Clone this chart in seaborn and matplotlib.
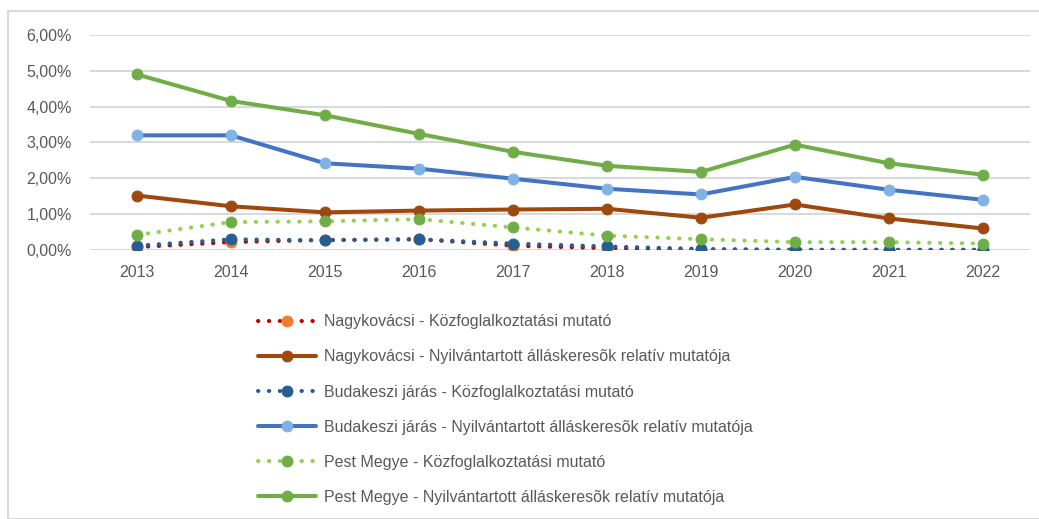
import numpy as np
import pandas as pd
import matplotlib
matplotlib.use("Agg")
from matplotlib import pyplot as plt
from matplotlib.ticker import FuncFormatter
from matplotlib.patches import Rectangle
import seaborn as sns

years = [2013, 2014, 2015, 2016, 2017, 2018, 2019, 2020, 2021, 2022]

# values in percent
nagy_kozfog = [0.08, 0.22, 0.28, 0.30, 0.12, 0.05, 0.00, 0.00, 0.00, 0.00]
nagy_rel = [1.52, 1.22, 1.05, 1.10, 1.13, 1.15, 0.90, 1.27, 0.88, 0.60]
buda_kozfog = [0.12, 0.30, 0.27, 0.30, 0.18, 0.10, 0.03, 0.01, 0.01, 0.01]
buda_rel = [3.20, 3.20, 2.42, 2.27, 1.99, 1.71, 1.55, 2.04, 1.68, 1.40]
pest_kozfog = [0.42, 0.78, 0.80, 0.86, 0.63, 0.40, 0.30, 0.22, 0.22, 0.18]
pest_rel = [4.90, 4.16, 3.76, 3.24, 2.74, 2.35, 2.18, 2.94, 2.42, 2.10]

labels = [
    "Nagykovácsi - Közfoglalkoztatási mutató",
    "Nagykovácsi - Nyilvántartott álláskeresõk relatív mutatója",
    "Budakeszi járás - Közfoglalkoztatási mutató",
    "Budakeszi járás - Nyilvántartott álláskeresõk relatív mutatója",
    "Pest Megye - Közfoglalkoztatási mutató",
    "Pest Megye - Nyilvántartott álláskeresõk relatív mutatója",
]
series = [nagy_kozfog, nagy_rel, buda_kozfog, buda_rel, pest_kozfog, pest_rel]
line_colors = ["#C00000", "#9E480E", "#255E91", "#4472C4", "#92D050", "#70AD47"]
marker_colors = ["#ED7D31", "#9E480E", "#255E91", "#7FB2E5", "#70AD47", "#70AD47"]
dotted = [True, False, True, False, True, False]

sns.set_style("white")
plt.rcParams["font.family"] = ["Liberation Sans", "DejaVu Sans"]

fig = plt.figure(figsize=(10.39, 5.19), dpi=100)
ax = fig.add_axes([90 / 1039, 1 - 250 / 519, 940 / 1039, 215 / 519])

pos = np.arange(len(years))
for vals, lab, lc, mc, dt in zip(series, labels, line_colors, marker_colors, dotted):
    df = pd.DataFrame({"x": pos, "y": np.array(vals) / 100})
    kw = dict(linestyle=(0, (0.1, 2.6)), linewidth=2.9, dash_capstyle="round") if dt \
        else dict(linestyle="-", linewidth=2.9)
    sns.lineplot(data=df, x="x", y="y", ax=ax, color=lc, marker="o", markersize=7.8,
                 markerfacecolor=mc, markeredgecolor=mc, label=lab, **kw)

ax.set_xlim(-0.5, len(years) - 0.5)
ax.set_ylim(0, 0.06)
ax.set_xticks(pos)
ax.set_xticklabels([str(y) for y in years])
ax.set_yticks(np.arange(0, 0.061, 0.01))
ax.yaxis.set_major_formatter(FuncFormatter(lambda v, p: f"{v*100:.2f}%".replace(".", ",")))
ax.tick_params(axis="both", colors="#595959", labelsize=11.5, length=0)
ax.tick_params(axis="y", pad=13)
ax.tick_params(axis="x", pad=11)
ax.grid(axis="y", color="#D9D9D9", linewidth=1.5)
ax.set_axisbelow(True)
ax.set_xlabel("")
ax.set_ylabel("")
for s in ax.spines.values():
    s.set_visible(False)

leg = ax.legend(loc="upper left", bbox_to_anchor=(244 / 1039, 1 - 300 / 519),
                bbox_transform=fig.transFigure, frameon=False, ncol=1,
                fontsize=11.5, handlelength=3.6, labelspacing=1.26, handletextpad=0.5)
for t in leg.get_texts():
    t.set_color("#595959")

fig.patches.append(Rectangle((8 / 1039, 0), 1.0, 1 - 11 / 519, transform=fig.transFigure,
                             fill=False, edgecolor="#D9D9D9", linewidth=1.5))

fig.savefig("out.png", dpi=100)
